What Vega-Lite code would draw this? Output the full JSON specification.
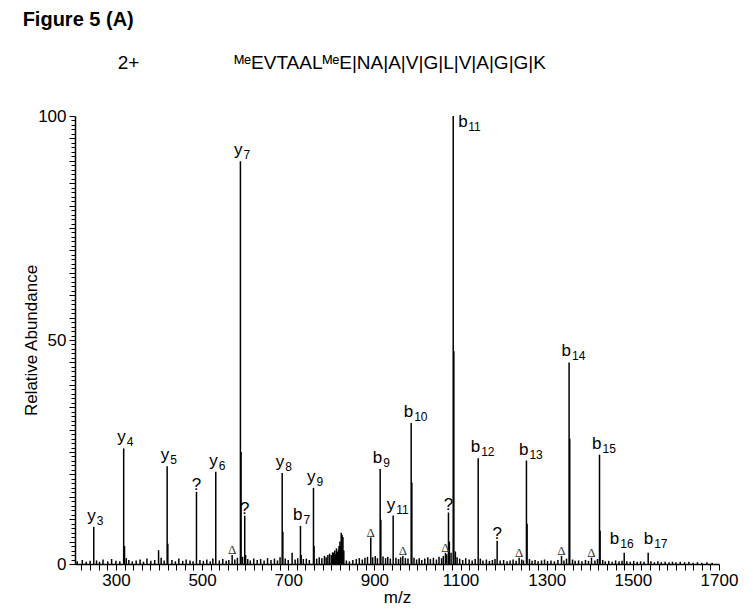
{
  "$schema": "https://vega.github.io/schema/vega-lite/v6.json",
  "width": 644,
  "height": 448,
  "padding": {"left": 22, "top": 10, "right": 10, "bottom": 5},
  "autosize": {"type": "pad"},
  "title": {
    "text": "Figure 5 (A)",
    "subtitle": "\u200b\u2003\u2003\u2003\u2003\u20032+\u2003\u2003\u2003\u2003\u2003\u1d39\u1d49EVTAAL\u1d39\u1d49E|NA|A|V|G|L|V|A|G|G|K",
    "anchor": "start",
    "frame": "bounds",
    "font": "Liberation Sans",
    "fontSize": 20,
    "fontWeight": "bold",
    "color": "black",
    "subtitleFont": "Liberation Sans",
    "subtitleFontSize": 19,
    "subtitleColor": "black",
    "subtitlePadding": 24,
    "offset": 34
  },
  "config": {
    "view": {"stroke": null},
    "axis": {
      "domainColor": "black",
      "domainWidth": 1.5,
      "tickColor": "black",
      "tickWidth": 1,
      "labelColor": "black",
      "titleColor": "black",
      "labelFont": "Liberation Sans",
      "titleFont": "Liberation Sans",
      "labelFontSize": 17,
      "titleFontSize": 17,
      "titleFontWeight": "normal",
      "grid": false,
      "labelOverlap": false,
      "labelFlush": false
    },
    "text": {"font": "Liberation Sans", "color": "black"}
  },
  "datasets": {
    "peaks": [
      {"mz": 248.5, "i": 8.3}, {"mz": 318, "i": 25.8}, {"mz": 320, "i": 4}, {"mz": 324, "i": 1.3},
      {"mz": 399, "i": 3.1}, {"mz": 418.9, "i": 21.8}, {"mz": 420.5, "i": 4.5}, {"mz": 487, "i": 16.1},
      {"mz": 531.8, "i": 20.6}, {"mz": 569.8, "i": 2}, {"mz": 589, "i": 89.9}, {"mz": 590.5, "i": 25},
      {"mz": 599, "i": 10.8}, {"mz": 601, "i": 2}, {"mz": 686, "i": 20.3}, {"mz": 687.5, "i": 7.2},
      {"mz": 709, "i": 2.5}, {"mz": 728.4, "i": 8.5}, {"mz": 730, "i": 2}, {"mz": 758.6, "i": 17},
      {"mz": 760, "i": 4}, {"mz": 805, "i": 2.5}, {"mz": 808, "i": 3}, {"mz": 812, "i": 3.5},
      {"mz": 815, "i": 2.8}, {"mz": 818, "i": 4}, {"mz": 820, "i": 5}, {"mz": 823, "i": 7},
      {"mz": 825, "i": 6.5}, {"mz": 827, "i": 6}, {"mz": 829, "i": 3}, {"mz": 891.6, "i": 5.9},
      {"mz": 913.4, "i": 21.2}, {"mz": 915, "i": 9.9}, {"mz": 943.6, "i": 10.8}, {"mz": 966, "i": 1.8},
      {"mz": 985.4, "i": 31.5}, {"mz": 987, "i": 18.2}, {"mz": 1065, "i": 2.5}, {"mz": 1072, "i": 11.5},
      {"mz": 1074, "i": 5}, {"mz": 1083, "i": 100}, {"mz": 1084.5, "i": 47.5}, {"mz": 1141, "i": 23.6},
      {"mz": 1185, "i": 5.2}, {"mz": 1236, "i": 1.4}, {"mz": 1253, "i": 23.1}, {"mz": 1254.5, "i": 9},
      {"mz": 1334.4, "i": 1.8}, {"mz": 1352, "i": 45}, {"mz": 1353.5, "i": 28}, {"mz": 1404, "i": 1.4},
      {"mz": 1422.6, "i": 24.4}, {"mz": 1424, "i": 7.4}, {"mz": 1480, "i": 2.5}, {"mz": 1535.6, "i": 2.5},
      {"mz": 210, "i": 0.6}, {"mz": 222, "i": 0.9}, {"mz": 231, "i": 0.5}, {"mz": 240, "i": 0.7},
      {"mz": 255, "i": 0.8}, {"mz": 262, "i": 0.5}, {"mz": 270, "i": 1.0}, {"mz": 281, "i": 0.6},
      {"mz": 290, "i": 1.1}, {"mz": 300, "i": 0.7}, {"mz": 309, "i": 0.6}, {"mz": 330, "i": 0.9},
      {"mz": 338, "i": 0.6}, {"mz": 347, "i": 0.8}, {"mz": 356, "i": 1.0}, {"mz": 364, "i": 0.5},
      {"mz": 372, "i": 1.2}, {"mz": 381, "i": 0.7}, {"mz": 390, "i": 0.9}, {"mz": 405, "i": 1.4},
      {"mz": 412, "i": 0.8}, {"mz": 430, "i": 0.9}, {"mz": 438, "i": 0.6}, {"mz": 446, "i": 1.2},
      {"mz": 455, "i": 0.7}, {"mz": 463, "i": 1.0}, {"mz": 472, "i": 0.8}, {"mz": 479, "i": 0.6},
      {"mz": 495, "i": 0.9}, {"mz": 503, "i": 0.7}, {"mz": 511, "i": 1.0}, {"mz": 519, "i": 0.6},
      {"mz": 525, "i": 1.2}, {"mz": 540, "i": 0.8}, {"mz": 548, "i": 1.1}, {"mz": 556, "i": 0.7},
      {"mz": 562, "i": 0.9}, {"mz": 576, "i": 1.0}, {"mz": 582, "i": 1.4}, {"mz": 594, "i": 1.6},
      {"mz": 606, "i": 1.1}, {"mz": 612, "i": 0.8}, {"mz": 620, "i": 1.2}, {"mz": 628, "i": 0.9},
      {"mz": 636, "i": 1.1}, {"mz": 644, "i": 0.8}, {"mz": 652, "i": 1.3}, {"mz": 660, "i": 0.9},
      {"mz": 668, "i": 1.2}, {"mz": 675, "i": 0.8}, {"mz": 681, "i": 1.5}, {"mz": 693, "i": 1.2},
      {"mz": 700, "i": 0.9}, {"mz": 716, "i": 1.0}, {"mz": 722, "i": 1.3}, {"mz": 735, "i": 1.1},
      {"mz": 742, "i": 1.2}, {"mz": 749, "i": 0.9}, {"mz": 766, "i": 1.2}, {"mz": 772, "i": 1.5},
      {"mz": 778, "i": 1.3}, {"mz": 784, "i": 1.8}, {"mz": 788, "i": 1.5}, {"mz": 792, "i": 2.0},
      {"mz": 796, "i": 2.3}, {"mz": 800, "i": 2.0}, {"mz": 803, "i": 2.6}, {"mz": 810, "i": 2.2},
      {"mz": 814, "i": 2.4}, {"mz": 817, "i": 3.2}, {"mz": 821, "i": 4.0}, {"mz": 835, "i": 0.8},
      {"mz": 842, "i": 0.6}, {"mz": 850, "i": 0.9}, {"mz": 858, "i": 1.1}, {"mz": 865, "i": 1.3},
      {"mz": 872, "i": 1.0}, {"mz": 878, "i": 1.4}, {"mz": 884, "i": 1.6}, {"mz": 896, "i": 1.5},
      {"mz": 902, "i": 1.8}, {"mz": 907, "i": 1.3}, {"mz": 920, "i": 1.7}, {"mz": 926, "i": 1.3},
      {"mz": 931, "i": 1.6}, {"mz": 937, "i": 1.2}, {"mz": 950, "i": 1.4}, {"mz": 956, "i": 1.1},
      {"mz": 961, "i": 1.5}, {"mz": 972, "i": 1.3}, {"mz": 978, "i": 1.2}, {"mz": 992, "i": 1.4},
      {"mz": 998, "i": 1.0}, {"mz": 1004, "i": 1.3}, {"mz": 1010, "i": 0.9}, {"mz": 1017, "i": 1.2},
      {"mz": 1024, "i": 1.5}, {"mz": 1030, "i": 1.1}, {"mz": 1037, "i": 1.4}, {"mz": 1044, "i": 1.0},
      {"mz": 1050, "i": 1.6}, {"mz": 1056, "i": 1.3}, {"mz": 1060, "i": 1.8}, {"mz": 1068, "i": 2.2},
      {"mz": 1078, "i": 2.5}, {"mz": 1088, "i": 2.8}, {"mz": 1092, "i": 1.5}, {"mz": 1098, "i": 1.2},
      {"mz": 1105, "i": 0.9}, {"mz": 1112, "i": 1.3}, {"mz": 1120, "i": 1.0}, {"mz": 1127, "i": 0.8},
      {"mz": 1134, "i": 1.1}, {"mz": 1146, "i": 1.2}, {"mz": 1152, "i": 0.8}, {"mz": 1160, "i": 1.0},
      {"mz": 1167, "i": 0.7}, {"mz": 1174, "i": 0.9}, {"mz": 1180, "i": 1.1}, {"mz": 1192, "i": 0.8},
      {"mz": 1200, "i": 0.9}, {"mz": 1208, "i": 0.6}, {"mz": 1215, "i": 0.8}, {"mz": 1222, "i": 1.0},
      {"mz": 1229, "i": 0.7}, {"mz": 1242, "i": 1.0}, {"mz": 1246, "i": 0.8}, {"mz": 1260, "i": 1.1},
      {"mz": 1266, "i": 0.7}, {"mz": 1273, "i": 0.9}, {"mz": 1280, "i": 0.6}, {"mz": 1288, "i": 0.8},
      {"mz": 1295, "i": 1.0}, {"mz": 1302, "i": 0.7}, {"mz": 1310, "i": 0.8}, {"mz": 1318, "i": 0.6},
      {"mz": 1326, "i": 0.9}, {"mz": 1340, "i": 0.8}, {"mz": 1346, "i": 1.2}, {"mz": 1360, "i": 1.0},
      {"mz": 1366, "i": 0.7}, {"mz": 1374, "i": 0.8}, {"mz": 1382, "i": 0.6}, {"mz": 1390, "i": 0.9},
      {"mz": 1397, "i": 0.7}, {"mz": 1412, "i": 0.8}, {"mz": 1418, "i": 1.1}, {"mz": 1430, "i": 0.9},
      {"mz": 1436, "i": 0.6}, {"mz": 1444, "i": 0.7}, {"mz": 1452, "i": 0.5}, {"mz": 1460, "i": 0.8},
      {"mz": 1468, "i": 0.6}, {"mz": 1475, "i": 0.7}, {"mz": 1486, "i": 0.6}, {"mz": 1494, "i": 0.5},
      {"mz": 1502, "i": 0.7}, {"mz": 1510, "i": 0.5}, {"mz": 1518, "i": 0.6}, {"mz": 1526, "i": 0.5},
      {"mz": 1542, "i": 0.6}, {"mz": 1550, "i": 0.4}, {"mz": 1558, "i": 0.6}, {"mz": 1566, "i": 0.4},
      {"mz": 1575, "i": 0.5}, {"mz": 1584, "i": 0.4}, {"mz": 1592, "i": 0.5}, {"mz": 1600, "i": 0.4},
      {"mz": 1610, "i": 0.5}, {"mz": 1620, "i": 0.4}, {"mz": 1630, "i": 0.5}, {"mz": 1640, "i": 0.3},
      {"mz": 1650, "i": 0.4}, {"mz": 1660, "i": 0.3}, {"mz": 1672, "i": 0.4}, {"mz": 1684, "i": 0.3}
    ],
    "labels": [
      {"mz": 248.5, "i": 8.3, "kind": "ion", "t": "y", "s": "3"},
      {"mz": 318, "i": 25.8, "kind": "ion", "t": "y", "s": "4"},
      {"mz": 418.9, "i": 21.8, "kind": "ion", "t": "y", "s": "5"},
      {"mz": 531.8, "i": 20.6, "kind": "ion", "t": "y", "s": "6"},
      {"mz": 589, "i": 89.9, "kind": "ion", "t": "y", "s": "7"},
      {"mz": 686, "i": 20.3, "kind": "ion", "t": "y", "s": "8"},
      {"mz": 728.4, "i": 8.5, "kind": "ion", "t": "b", "s": "7"},
      {"mz": 758.6, "i": 17, "kind": "ion", "t": "y", "s": "9"},
      {"mz": 913.4, "i": 21.2, "kind": "ion", "t": "b", "s": "9"},
      {"mz": 943.6, "i": 10.8, "kind": "ion", "t": "y", "s": "11"},
      {"mz": 985.4, "i": 31.5, "kind": "ion", "t": "b", "s": "10"},
      {"mz": 1083, "i": 100, "kind": "top", "t": "b", "s": "11"},
      {"mz": 1141, "i": 23.6, "kind": "ion", "t": "b", "s": "12"},
      {"mz": 1253, "i": 23.1, "kind": "ion", "t": "b", "s": "13"},
      {"mz": 1352, "i": 45, "kind": "ion", "t": "b", "s": "14"},
      {"mz": 1422.6, "i": 24.4, "kind": "ion", "t": "b", "s": "15"},
      {"mz": 1480, "i": 2.5, "kind": "lowL", "t": "b", "s": "16"},
      {"mz": 1535.6, "i": 2.5, "kind": "lowR", "t": "b", "s": "17"},
      {"mz": 487, "i": 16.1, "kind": "q", "t": "?", "s": ""},
      {"mz": 599, "i": 10.8, "kind": "q", "t": "?", "s": ""},
      {"mz": 1072, "i": 11.5, "kind": "q", "t": "?", "s": ""},
      {"mz": 1185, "i": 5.2, "kind": "q", "t": "?", "s": ""},
      {"mz": 569.8, "i": 2, "kind": "d", "t": "\u0394", "s": ""},
      {"mz": 891.6, "i": 5.9, "kind": "d", "t": "\u0394", "s": ""},
      {"mz": 966, "i": 1.8, "kind": "d", "t": "\u0394", "s": ""},
      {"mz": 1065, "i": 2.5, "kind": "d", "t": "\u0394", "s": ""},
      {"mz": 1236, "i": 1.4, "kind": "d", "t": "\u0394", "s": ""},
      {"mz": 1334.4, "i": 1.8, "kind": "d", "t": "\u0394", "s": ""},
      {"mz": 1404, "i": 1.4, "kind": "d", "t": "\u0394", "s": ""}
    ]
  },
  "encoding": {
    "x": {
      "field": "mz",
      "type": "quantitative",
      "scale": {"domain": [205, 1700], "nice": false, "zero": false},
      "axis": {
        "title": "m/z",
        "titlePadding": 1,
        "format": "d",
        "values": [220,240,260,280,300,320,340,360,380,400,420,440,460,480,500,520,540,560,580,600,620,640,660,680,700,720,740,760,780,800,820,840,860,880,900,920,940,960,980,1000,1020,1040,1060,1080,1100,1120,1140,1160,1180,1200,1220,1240,1260,1280,1300,1320,1340,1360,1380,1400,1420,1440,1460,1480,1500,1520,1540,1560,1580,1600,1620,1640,1660,1680,1700],
        "labelExpr": "(datum.value - 100) % 200 === 0 ? datum.label : ''",
        "tickSize": 6,
        "labelPadding": 2
      }
    },
    "y": {
      "field": "i",
      "type": "quantitative",
      "scale": {"domain": [0, 100], "nice": false},
      "axis": {
        "title": "Relative Abundance",
        "titlePadding": -3,
        "format": "d",
        "values": [0,1,2,3,4,5,6,7,8,9,10,11,12,13,14,15,16,17,18,19,20,21,22,23,24,25,26,27,28,29,30,31,32,33,34,35,36,37,38,39,40,41,42,43,44,45,46,47,48,49,50,51,52,53,54,55,56,57,58,59,60,61,62,63,64,65,66,67,68,69,70,71,72,73,74,75,76,77,78,79,80,81,82,83,84,85,86,87,88,89,90,91,92,93,94,95,96,97,98,99,100],
        "labelExpr": "datum.value % 50 === 0 ? datum.label : ''",
        "tickSize": {"condition": {"test": "datum.value % 5 === 0", "value": 6}, "value": 4},
        "labelPadding": 3
      }
    }
  },
  "layer": [
    {
      "data": {"name": "peaks"},
      "mark": {"type": "rule", "color": "black", "strokeWidth": 1.5},
      "encoding": {"y2": {"datum": 0}}
    },
    {
      "data": {"name": "labels"},
      "transform": [{"filter": "datum.kind === 'ion'"}],
      "mark": {"type": "text", "align": "right", "baseline": "alphabetic", "dx": 2, "dy": -6, "fontSize": 17},
      "encoding": {"text": {"field": "t"}}
    },
    {
      "data": {"name": "labels"},
      "transform": [{"filter": "datum.kind === 'ion'"}],
      "mark": {"type": "text", "align": "left", "baseline": "alphabetic", "dx": 3, "dy": -2, "fontSize": 12},
      "encoding": {"text": {"field": "s"}}
    },
    {
      "data": {"name": "labels"},
      "transform": [{"filter": "datum.kind === 'top'"}],
      "mark": {"type": "text", "align": "left", "baseline": "alphabetic", "dx": 5, "dy": 11, "fontSize": 17},
      "encoding": {"text": {"field": "t"}}
    },
    {
      "data": {"name": "labels"},
      "transform": [{"filter": "datum.kind === 'top'"}],
      "mark": {"type": "text", "align": "left", "baseline": "alphabetic", "dx": 15, "dy": 15, "fontSize": 12},
      "encoding": {"text": {"field": "s"}}
    },
    {
      "data": {"name": "labels"},
      "transform": [{"filter": "datum.kind === 'lowL'"}],
      "mark": {"type": "text", "align": "right", "baseline": "alphabetic", "dx": -5, "dy": -9, "fontSize": 17},
      "encoding": {"text": {"field": "t"}}
    },
    {
      "data": {"name": "labels"},
      "transform": [{"filter": "datum.kind === 'lowL'"}],
      "mark": {"type": "text", "align": "left", "baseline": "alphabetic", "dx": -4, "dy": -5, "fontSize": 12},
      "encoding": {"text": {"field": "s"}}
    },
    {
      "data": {"name": "labels"},
      "transform": [{"filter": "datum.kind === 'lowR'"}],
      "mark": {"type": "text", "align": "right", "baseline": "alphabetic", "dx": 5, "dy": -9, "fontSize": 17},
      "encoding": {"text": {"field": "t"}}
    },
    {
      "data": {"name": "labels"},
      "transform": [{"filter": "datum.kind === 'lowR'"}],
      "mark": {"type": "text", "align": "left", "baseline": "alphabetic", "dx": 6, "dy": -5, "fontSize": 12},
      "encoding": {"text": {"field": "s"}}
    },
    {
      "data": {"name": "labels"},
      "transform": [{"filter": "datum.kind === 'q'"}],
      "mark": {"type": "text", "align": "center", "baseline": "alphabetic", "dy": -2, "fontSize": 17},
      "encoding": {"text": {"field": "t"}}
    },
    {
      "data": {"name": "labels"},
      "transform": [{"filter": "datum.kind === 'd'"}],
      "mark": {"type": "text", "align": "center", "baseline": "alphabetic", "dy": -1, "fontSize": 13, "font": "Liberation Serif", "color": "#333333"},
      "encoding": {"text": {"field": "t"}}
    }
  ]
}
